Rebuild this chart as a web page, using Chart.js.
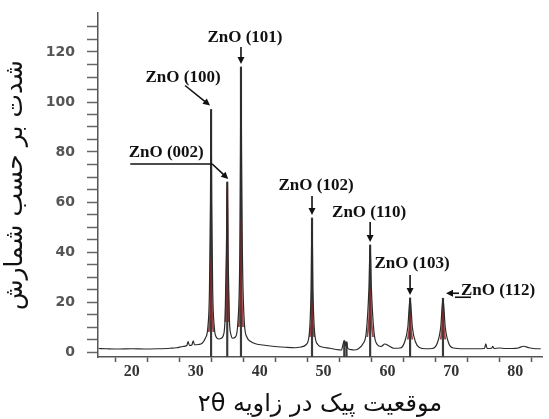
<!DOCTYPE html>
<html>
<head>
<meta charset="utf-8">
<script src="https://cdn.jsdelivr.net/npm/chart.js@4"></script>
<style>
  body { margin: 0; background: #fff; }
</style>
</head>
<body>
<canvas id="xrd" width="549" height="419"></canvas>
<script>
// patrón de difracción (2θ, intensidad)
const twoTheta = [14.8, 16, 18, 20, 22, 24, 26, 27, 28, 28.6, 28.8, 29.0, 29.4, 29.6, 29.8, 30.4, 31.0, 31.5, 31.9,
  32.15, 32.3, 32.4, 32.5, 32.65, 32.9, 33.2, 33.6, 34.0, 34.3, 34.6, 34.8, 34.93, 35.05, 35.25, 35.5, 35.8, 36.2,
  36.6, 36.9, 37.0, 37.08, 37.17, 37.3, 37.6, 38.0, 38.6, 39.5, 40.5, 42, 44, 45.5, 46.5, 47.3, 47.8, 48.05, 48.2,
  48.35, 48.6, 49.1, 49.8, 51, 52, 52.8, 53.1, 53.3, 53.45, 53.6, 53.8, 54.2, 54.8, 55.4, 56.1, 56.7, 57.1, 57.3,
  57.5, 57.9, 58.4, 59, 59.6, 60.2, 61, 62, 62.7, 63.2, 63.55, 63.9, 64.4, 65, 66, 67, 67.8, 68.35, 68.7, 69.05,
  69.6, 70.3, 72, 74, 75.2, 75.4, 75.6, 76.3, 76.5, 76.7, 77.5, 78.5, 79.5, 80.5, 81.3, 82.2, 83.2, 84.0]
const intensity = [1.4, 1.3, 1.2, 1.3, 1.2, 1.3, 1.5, 1.7, 2.2, 2.6, 4.2, 2.6, 2.8, 4.5, 2.9, 3.0, 3.5, 5.5, 10,
  25, 60, 97, 60, 25, 10, 6, 5.2, 5.5, 6.5, 14, 40, 68, 40, 14, 7, 5.5, 6,
  12, 40, 80, 114, 80, 40, 12, 6, 4.2, 3.2, 2.8, 2.3, 1.9, 1.7, 2, 3, 8, 25, 53.6,
  25, 8, 3, 2, 1.5, 1.0, 0.8, 3.5, 4.5, 2.5, 4, 1.5, 1.0, 0.8, 1.2, 3, 8, 25, 42.8,
  25, 8, 3, 2.2, 3.2, 2.5, 1.5, 1.6, 4, 10, 21.6, 10, 4, 1.8, 1.3, 1.4, 3.5, 10, 21.5, 10,
  3.5, 1.6, 1.3, 1.3, 1.4, 3.3, 1.4, 1.5, 2.3, 1.4, 1.6, 1.4, 1.4, 1.6, 2.3, 1.7, 1.3, 1.3]

// curva ajustada (rojo) solo en los picos
const fitTheta = [32.05, 32.3, 32.4, 32.5, 32.75, null, 34.65, 34.85, 34.93, 35.01, 35.2, null,
  36.75, 37.0, 37.08, 37.16, 37.4, null, 47.85, 48.1, 48.2, 48.3, 48.55, null,
  56.85, 57.15, 57.3, 57.45, 57.75, null, 63.2, 63.45, 63.55, 63.65, 63.9, null, 68.35, 68.6, 68.7, 68.8, 69.05]
const fitIntensity = [8, 20, 38, 20, 8, null, 12, 35, 66, 35, 12, null,
  10, 28, 53, 28, 10, null, 6, 12, 20, 12, 6, null,
  6, 14, 25, 14, 6, null, 5, 10, 15, 10, 5, null, 5, 11, 18, 11, 5]

// líneas de referencia (posición, intensidad)
const refTheta = [32.4, 34.93, 37.08, 48.2, 53.25, 53.6, 57.3, 63.55, 68.7]
const refIntensity = [97, 68, 114, 53.6, 4.5, 4, 42.8, 21.6, 21.5]

// etiquetas de los picos
const peakLabels = ['ZnO (100)', 'ZnO (002)', 'ZnO (101)', 'ZnO (102)', 'ZnO (110)', 'ZnO (103)', 'ZnO (112)']
const peakTheta = [32.4, 34.93, 37.08, 48.2, 57.3, 63.55, 68.7]
const peakTop = [97, 68, 114, 53.6, 42.8, 21.6, 21.5]

// ticks
const xTicks = [20, 25, 30, 35, 40, 45, 50, 55, 60, 65, 70, 75, 80]
const yTicks = [0, 5, 10, 15, 20, 25, 30, 35, 40, 45, 50, 55, 60, 65, 70, 75, 80, 85, 90, 95, 100, 105, 110, 115, 120, 125, 130]

const xTitle = '\u202Bموقعیت پیک در زاویه ۲θ\u202C'
const yTitle = '\u202Bشدت بر حسب شمارش\u202C'

// posición del texto y de la flecha respecto al pico (en píxeles)
const callouts = [
  { tx: -28, ty: -32, arrow: [-26, -24, -1, -4] },
  { tx: -61, ty: -29, line: [-97, -18, -15, -18], arrow: [-15, -18, 1, -3] },
  { tx: 4, ty: -29, arrow: [0, -20, 0, -3] },
  { tx: 4, ty: -32, arrow: [0, -22, 0, -3] },
  { tx: -1, ty: -32, arrow: [0, -23, 0, -3] },
  { tx: 2, ty: -34, arrow: [0, -23, 0, -3] },
  { tx: 55, ty: -8, line: [12, -1, 28, -1], arrow: [16, -5, 3, -5] }
]

function drawArrow(ctx, x1, y1, x2, y2) {
  const ang = Math.atan2(y2 - y1, x2 - x1)
  const len = 7, w = 3.5
  ctx.beginPath()
  ctx.moveTo(x1, y1)
  ctx.lineTo(x2 - Math.cos(ang) * len * 0.8, y2 - Math.sin(ang) * len * 0.8)
  ctx.stroke()
  ctx.beginPath()
  ctx.moveTo(x2, y2)
  ctx.lineTo(x2 - Math.cos(ang) * len - Math.sin(ang) * w, y2 - Math.sin(ang) * len + Math.cos(ang) * w)
  ctx.lineTo(x2 - Math.cos(ang) * len + Math.sin(ang) * w, y2 - Math.sin(ang) * len - Math.cos(ang) * w)
  ctx.closePath()
  ctx.fill()
}

const peakNotes = {
  id: 'peakNotes',
  afterDatasetsDraw(chart) {
    const { ctx, scales: { x, y } } = chart
    ctx.save()
    ctx.font = 'bold 17px "Liberation Serif", serif'
    ctx.fillStyle = '#111'
    ctx.strokeStyle = '#111'
    ctx.lineWidth = 1.6
    ctx.textAlign = 'center'
    ctx.textBaseline = 'middle'
    peakLabels.forEach((txt, i) => {
      const px = x.getPixelForValue(peakTheta[i])
      const py = y.getPixelForValue(peakTop[i])
      const c = callouts[i]
      ctx.fillText(txt, px + c.tx, py + c.ty)
      if (c.line) {
        ctx.beginPath()
        ctx.moveTo(px + c.line[0], py + c.line[1])
        ctx.lineTo(px + c.line[2], py + c.line[3])
        ctx.stroke()
      }
      const a = c.arrow
      drawArrow(ctx, px + a[0], py + a[1], px + a[2], py + a[3])
    })
    ctx.restore()
  }
}

const ctx = document.getElementById('xrd')

new Chart(ctx, {
  type: 'line',
  data: {
    datasets: [{
      label: 'patrón',
      data: twoTheta.map((t, i) => ({ x: t, y: intensity[i] })),
      borderColor: '#2b2b2b',
      borderWidth: 1.2,
      pointRadius: 0,
      cubicInterpolationMode: 'monotone',
      order: 0
    }, {
      label: 'ajuste',
      data: fitTheta.map((t, i) => (t === null ? { x: NaN, y: null } : { x: t, y: fitIntensity[i] })),
      borderColor: 'rgba(140, 40, 40, 0.85)',
      borderWidth: 1.8,
      pointRadius: 0,
      spanGaps: false,
      cubicInterpolationMode: 'monotone',
      order: 1
    }, {
      type: 'bar',
      label: 'referencia',
      data: refTheta.map((t, i) => ({ x: t, y: [-2, refIntensity[i]] })),
      backgroundColor: '#3a3a3a',
      barThickness: 1.5,
      grouped: false,
      order: 2
    }]
  },
  options: {
    responsive: false,
    animation: false,
    layout: { padding: { top: 13, right: 7, left: 0, bottom: 0 } },
    plugins: {
      legend: { display: false },
      tooltip: { enabled: false }
    },
    scales: {
      x: {
        type: 'linear',
        min: 14.7,
        max: 84.2,
        offset: false,
        afterBuildTicks: axis => { axis.ticks = xTicks.map(v => ({ value: v })) },
        afterFit: axis => { axis.height = 62; axis.paddingLeft = 0; axis.paddingRight = 0 },
        ticks: {
          autoSkip: false,
          maxRotation: 0,
          padding: 0,
          color: '#333',
          font: { family: '"Liberation Serif", serif', size: 16, weight: 'bold' },
          callback: v => (v % 10 === 0 ? v : '')
        },
        grid: { drawOnChartArea: false, drawTicks: true, tickLength: 5, color: '#555', tickWidth: 1.5 },
        border: { color: '#555', width: 1.5 },
        title: {
          display: true,
          text: xTitle,
          color: '#111',
          font: { family: '"DejaVu Sans", sans-serif', size: 24 },
          padding: { top: 2, bottom: 0 }
        }
      },
      y: {
        min: -2,
        max: 135.6,
        afterBuildTicks: axis => { axis.ticks = yTicks.map(v => ({ value: v })) },
        afterFit: axis => { axis.width = 98; axis.paddingTop = 0; axis.paddingBottom = 0 },
        ticks: {
          autoSkip: false,
          padding: 12,
          color: '#555',
          font: { family: '"DejaVu Sans", sans-serif', size: 14, weight: 'bold' },
          callback: v => (v % 20 === 0 ? v : '')
        },
        grid: { drawOnChartArea: false, drawTicks: true, tickLength: 11, color: '#666', tickWidth: 1.5 },
        border: { color: '#555', width: 1.5 },
        title: {
          display: true,
          text: yTitle,
          color: '#111',
          font: { family: '"DejaVu Sans", sans-serif', size: 25 },
          padding: { top: 0, bottom: 0 }
        }
      }
    }
  },
  plugins: [peakNotes]
})
</script>
</body>
</html>
